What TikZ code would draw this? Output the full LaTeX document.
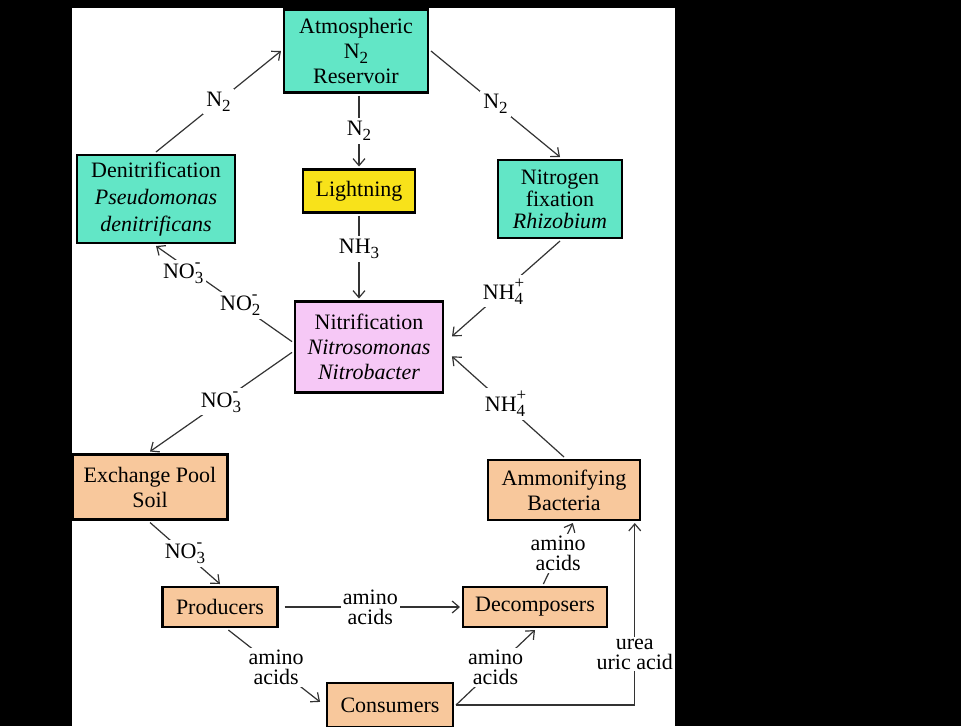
\documentclass[tikz,border=0pt]{standalone}
\usepackage{fontspec}
\setmainfont{Liberation Serif}
\usetikzlibrary{arrows.meta}
\definecolor{boxgreen}{HTML}{62E6C6}
\definecolor{boxyellow}{HTML}{F8E21A}
\definecolor{boxpink}{HTML}{F6C8F6}
\definecolor{boxorange}{HTML}{F8C89C}
\newcommand{\chsub}[1]{\raisebox{-0.5ex}{\fontsize{17}{17}\selectfont #1}}
\newcommand{\chion}[3]{#1\rlap{\raisebox{1.1ex}{\fontsize{17}{17}\selectfont #3}}\raisebox{-0.5ex}{\fontsize{17}{17}\selectfont #2}}

\begin{document}
\begin{tikzpicture}[x=1pt, y=-1pt,
    font=\fontsize{22}{25}\selectfont,
    box/.style={draw, line width=2.2pt, align=center, inner sep=2pt, outer sep=3pt},
    flow/.style={draw=black!80, line width=1.2pt, -{Straight Barb[length=7pt,width=12pt]}},
    lbl/.style={fill=white, inner sep=3pt, align=center},
    acid/.style={lbl, inner sep=2pt, font=\fontsize{22}{20}\selectfont}]
    \useasboundingbox (0,0) rectangle (961,726);
    % BACKGROUND
    \fill[black] (0,0) rectangle (961,726);
    \fill[white] (72,8) rectangle (675,726);
    % BOXES
    \node[box, fill=boxgreen, minimum width=144, minimum height=83] (atm) at (356,51) {Atmospheric\\N\chsub{2}\\Reservoir};
    \node[box, fill=boxyellow, minimum width=112, minimum height=43] (lig) at (359,191) {Lightning};
    \node[box, fill=boxgreen, minimum width=158, minimum height=88, font=\fontsize{22}{27}\selectfont] (den) at (156,199) {Denitrification\\\textit{Pseudomonas}\\\textit{denitrificans}};
    \node[box, fill=boxgreen, minimum width=124, minimum height=78, font=\fontsize{22}{22}\selectfont] (fix) at (560,199) {Nitrogen\\fixation\\\textit{Rhizobium}};
    \node[box, fill=boxpink, minimum width=148, minimum height=91] (nit) at (369,347) {Nitrification\\\textit{Nitrosomonas}\\\textit{Nitrobacter}};
    \node[box, fill=boxorange, minimum width=155, minimum height=65] (pool) at (150,487) {Exchange Pool\\Soil};
    \node[box, fill=boxorange, minimum width=152, minimum height=60] (amm) at (564,490) {Ammonifying\\Bacteria};
    \node[box, fill=boxorange, minimum width=115, minimum height=40] (prod) at (220,607) {Producers};
    \node[box, fill=boxorange, minimum width=144, minimum height=40] (dec) at (535,607) {Decomposers};
    \node[box, fill=boxorange, minimum width=126, minimum height=44] (con) at (390,705) {Consumers};
    % ATMOSPHERE
    \draw[flow] (den.north) -- node[lbl]{N\chsub{2}} (atm.west);
    \draw[flow] (atm.south -| lig.north) -- node[lbl]{N\chsub{2}} (lig.north);
    \draw[flow] (atm.east) -- node[lbl]{N\chsub{2}} (fix.north);
    \draw[flow] (lig.south) -- node[lbl, pos=0.4]{NH\chsub{3}} (lig.south |- nit.north);
    % NITRIFICATION
    \draw[flow, shorten >=8pt] (fix.south) -- node[lbl]{\chion{NH}{4}{+}} (nit.4);
    \draw[flow, shorten >=8pt] (amm.north) -- node[lbl]{\chion{NH}{4}{+}} (nit.-3);
    \draw[flow] (nit.176) -- node[lbl, pos=0.38]{\chion{NO}{2}{-}} node[lbl, pos=0.8, yshift=-8pt]{\chion{NO}{3}{-}} (den.south);
    \draw[flow] (nit.184) -- node[lbl]{\chion{NO}{3}{-}} (pool.north);
    % FOOD CHAIN
    \draw[flow] (pool.south) -- node[lbl]{\chion{NO}{3}{-}} (prod.north);
    \draw[flow, shorten <=4pt] (prod.east) -- node[acid]{amino\\acids} (dec.west);
    \draw[flow, shorten >=5pt] (prod.-70) -- node[acid]{amino\\acids} (con.west);
    \draw[flow] (con.east) -- node[acid]{amino\\acids} (dec.south);
    \draw[flow] (dec.70) -- node[acid]{amino\\acids} (amm.-75);
    \draw[flow] (con.east) -| node[acid, pos=0.64]{urea\\uric acid} (amm.-25);
\end{tikzpicture}
\end{document}
